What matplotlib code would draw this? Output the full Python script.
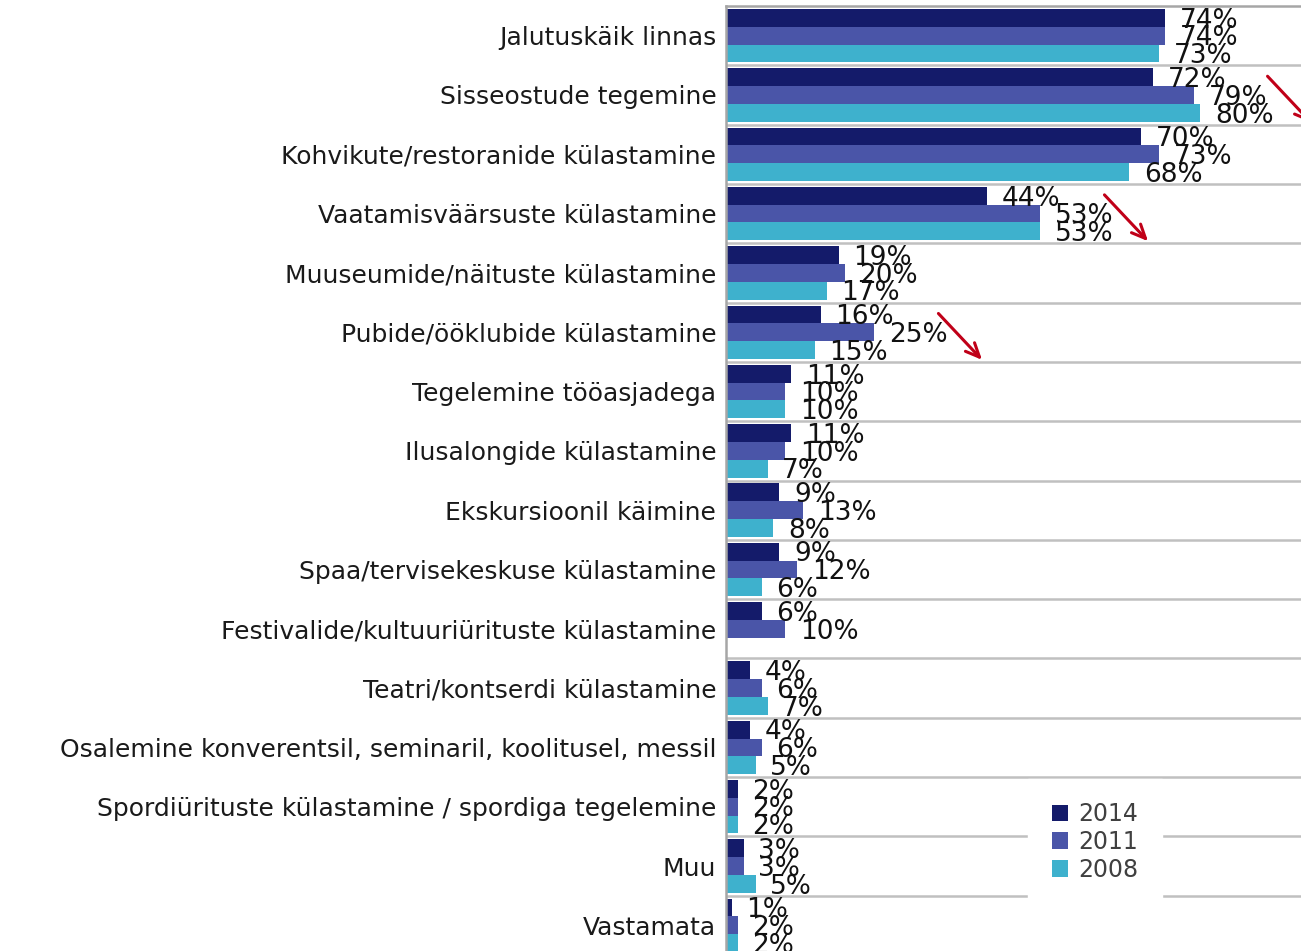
import numpy as np
import matplotlib.pyplot as plt

# survey activities, share of respondents (%)
categories = [
    "Jalutuskäik linnas",
    "Sisseostude tegemine",
    "Kohvikute/restoranide külastamine",
    "Vaatamisväärsuste külastamine",
    "Muuseumide/näituste külastamine",
    "Pubide/ööklubide külastamine",
    "Tegelemine tööasjadega",
    "Ilusalongide külastamine",
    "Ekskursioonil käimine",
    "Spaa/tervisekeskuse külastamine",
    "Festivalide/kultuuriürituste külastamine",
    "Teatri/kontserdi külastamine",
    "Osalemine konverentsil, seminaril, koolitusel, messil",
    "Spordiürituste külastamine / spordiga tegelemine",
    "Muu",
    "Vastamata",
]
v2014 = [74, 72, 70, 44, 19, 16, 11, 11, 9, 9, 6, 4, 4, 2, 3, 1]
v2011 = [74, 79, 73, 53, 20, 25, 10, 10, 13, 12, 10, 6, 6, 2, 3, 2]
v2008 = [73, 80, 68, 53, 17, 15, 10, 7, 8, 6, np.nan, 7, 5, 2, 5, 2]

series = [("2014", v2014, "#141b6a"), ("2011", v2011, "#4a55a8"), ("2008", v2008, "#3eb1cd")]

# arrows marking a drop: (row, x start, x end)
arrows = [(1, 91, 99), (3, 63.5, 71.5), (5, 35.5, 43.5)]

fig = plt.figure(figsize=(13.01, 9.51), dpi=100)
ax = fig.add_axes([726 / 1301, -4 / 951, 593 / 1301, 949 / 951])

y = np.arange(len(categories))
h = 0.3
for k, (name, vals, col) in enumerate(series):
    pos = y + (k - 1) * h
    ax.barh(pos, vals, height=h, color=col, label=name)
    for p, v in zip(pos, vals):
        if np.isnan(v):
            continue
        ax.annotate(f"{v:.0f}%", (v, p), xytext=(10.5, -2), textcoords="offset points",
                    va="center", ha="left", fontsize=19, color="#111111")

for i in range(len(categories) - 1):
    ax.axhline(i + 0.5, color="#c0c0c0", lw=1.8, zorder=0)

for row, x0, x1 in arrows:
    ax.annotate("", xy=(x1, row + 0.5), xytext=(x0, row - 0.35),
                arrowprops=dict(arrowstyle="->,head_length=1.0,head_width=0.45",
                                color="#c00018", lw=2.2))

ax.set_xlim(0, 100)
ax.set_ylim(len(categories) - 0.5, -0.5)
ax.set_yticks(y)
ax.set_yticklabels(categories, fontsize=18, color="#1a1a1a")
ax.tick_params(axis="y", length=0, pad=7)
ax.set_xticks([])
for s in ["right", "bottom"]:
    ax.spines[s].set_visible(False)
for s in ["left", "top"]:
    ax.spines[s].set_color("#a6a6a6")
    ax.spines[s].set_linewidth(1.8)

leg = fig.legend(loc="center", bbox_to_anchor=(1095 / 1301, 1 - 842 / 951),
                 fontsize=17, frameon=True, facecolor="white", edgecolor="white",
                 framealpha=1, handlelength=0.7, handleheight=0.7, handletextpad=0.4,
                 labelspacing=0.15, borderpad=0.7, borderaxespad=0)
leg.get_frame().set_boxstyle("square", pad=0.3)
for t in leg.get_texts():
    t.set_color("#404040")

fig.savefig("out.png", dpi=100)
